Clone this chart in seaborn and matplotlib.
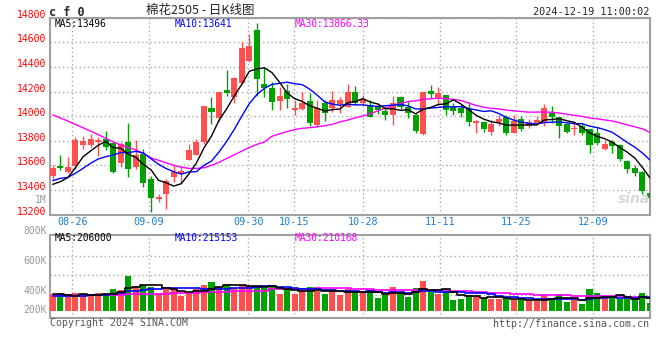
import numpy as np
import pandas as pd
import seaborn as sns
import matplotlib
matplotlib.use("Agg")
import matplotlib.pyplot as plt
from matplotlib.transforms import ScaledTranslation

sns.set_style("white")
plt.rcParams['font.family'] = ['DejaVu Sans Mono']

# ---- data ----
dates = ["08-21", "08-22", "08-23", "08-26", "08-27", "08-28", "08-29", "08-30",
         "09-02", "09-03", "09-04", "09-05", "09-06", "09-09", "09-10", "09-11",
         "09-12", "09-13", "09-18", "09-19", "09-20", "09-23", "09-24", "09-25",
         "09-26", "09-27", "09-30", "10-08", "10-09", "10-10", "10-11", "10-14",
         "10-15", "10-16", "10-17", "10-18", "10-21", "10-22", "10-23", "10-24",
         "10-25", "10-28", "10-29", "10-30", "10-31", "11-01", "11-04", "11-05",
         "11-06", "11-07", "11-08", "11-11", "11-12", "11-13", "11-14", "11-15",
         "11-18", "11-19", "11-20", "11-21", "11-22", "11-25", "11-26", "11-27",
         "11-28", "11-29", "12-02", "12-03", "12-04", "12-05", "12-06", "12-09",
         "12-10", "12-11", "12-12", "12-13", "12-16", "12-17", "12-18", "12-19"]

opens = [13513, 13595, 13549, 13595, 13765, 13765, 13786, 13814, 13784, 13616,
         13786, 13584, 13689, 13489, 13326, 13365, 13502, 13529, 13645, 13684,
         13792, 14063, 13987, 14212, 14158, 14272, 14450, 14700, 14261, 14231,
         14125, 14207, 14050, 14060, 14123, 13927, 14109, 14063, 14098, 14076,
         14198, 14109, 14090, 14072, 14044, 14009, 14158, 14076, 14009, 13854,
         14204, 14136, 14172, 14072, 14063, 14055, 13946, 13954, 13873, 13949,
         13995, 13865, 13974, 13919, 13941, 13945, 14023, 13990, 13936, 13893,
         13920, 13893, 13860, 13733, 13792, 13765, 13638, 13578, 13548, 13372]
highs = [13603, 13684, 13665, 13827, 13840, 13851, 13832, 13881, 13790, 13792,
         13946, 13805, 13732, 13516, 13370, 13486, 13605, 13595, 13770, 13811,
         14085, 14153, 14200, 14375, 14320, 14600, 14667, 14760, 14402, 14280,
         14240, 14265, 14134, 14198, 14185, 14131, 14131, 14207, 14153, 14261,
         14245, 14171, 14131, 14110, 14080, 14164, 14160, 14120, 14020, 14200,
         14253, 14240, 14172, 14110, 14100, 14104, 13965, 13960, 13965, 14010,
         14010, 14010, 14000, 13976, 14000, 14095, 14085, 13992, 13945, 13941,
         13941, 13895, 13909, 13806, 13806, 13770, 13640, 13600, 13550, 13405]
lows = [13486, 13562, 13535, 13568, 13730, 13750, 13676, 13724, 13541, 13589,
        13508, 13573, 13422, 13224, 13300, 13242, 13467, 13456, 13643, 13680,
        13770, 13936, 13960, 14164, 14104, 14261, 14442, 14164, 14153, 14050,
        14047, 14066, 14010, 14050, 13920, 13920, 13960, 14036, 14028, 14070,
        14090, 14090, 13990, 14015, 13970, 13927, 14060, 13982, 13865, 13850,
        14150, 14090, 14010, 14010, 13990, 13922, 13864, 13870, 13850, 13922,
        13850, 13860, 13880, 13900, 13935, 13920, 13940, 13819, 13860, 13846,
        13846, 13697, 13765, 13725, 13703, 13635, 13535, 13510, 13365, 13318]
closes = [13576, 13578, 13584, 13805, 13800, 13814, 13805, 13751, 13549, 13773,
          13568, 13684, 13459, 13332, 13345, 13471, 13548, 13556, 13725, 13792,
          14082, 14036, 14198, 14185, 14312, 14556, 14570, 14299, 14226, 14117,
          14164, 14136, 14069, 14109, 13941, 14063, 14023, 14131, 14131, 14198,
          14109, 14139, 13995, 14050, 14009, 14104, 14076, 14023, 13879, 14198,
          14180, 14190, 14050, 14042, 14028, 13954, 13960, 13895, 13936, 13976,
          13865, 13963, 13893, 13949, 13968, 14065, 13990, 13922, 13868, 13901,
          13865, 13765, 13779, 13773, 13759, 13651, 13570, 13541, 13393, 13332]
volumes = [283000, 306000, 249000, 306000, 249000, 249000, 306000, 289000, 368000, 351000,
           595000, 419000, 436000, 408000, 295000, 368000, 368000, 249000, 295000, 368000,
           436000, 487000, 408000, 459000, 385000, 436000, 419000, 419000, 391000, 408000,
           283000, 380000, 283000, 340000, 402000, 340000, 283000, 351000, 261000, 368000,
           323000, 295000, 351000, 221000, 266000, 402000, 295000, 232000, 385000, 504000,
           323000, 283000, 340000, 181000, 198000, 266000, 249000, 221000, 198000, 198000,
           227000, 181000, 181000, 159000, 159000, 266000, 198000, 283000, 147000, 181000,
           113000, 368000, 300000, 198000, 227000, 204000, 204000, 198000, 300000, 136000]

# moving-average values at the left edge (history before the window)
ma5_head = [13445, 13467, 13500, 13580]
ma10_head = [13475, 13494, 13502, 13535, 13575, 13616, 13651, 13670, 13684]
ma30_head = [14010, 13985, 13960, 13932, 13905, 13878, 13850, 13820, 13790, 13765,
             13745, 13725, 13695, 13660, 13640, 13620, 13600, 13585, 13575, 13575,
             13580, 13600, 13625, 13655, 13685, 13715, 13745, 13770, 13790]
vol_ma5_head = [278000, 278000, 275000, 250000]
vol_ma10_head = [250000, 250000, 252000, 255000, 258000, 262000, 266000, 272000, 280000]
vol_ma30_head = [262000, 263000, 264000, 265000, 266000, 267000, 268000, 270000, 272000, 274000,
                 277000, 280000, 283000, 286000, 289000, 292000, 295000, 298000, 301000, 304000,
                 310000, 315000, 320000, 325000, 330000, 333000, 336000, 338000, 340000]

tick_dates = ["08-26", "09-09", "09-30", "10-15", "10-28", "11-11", "11-25", "12-09"]
price_ticks = [13200, 13400, 13600, 13800, 14000, 14200, 14400, 14600, 14800]

RED = "#FF5050"
GREEN = "#00A000"
GRID = "#AAAAAA"
SPINE = "#A0A0A0"


def moving_avg(values, n, head):
    s = pd.Series(values, dtype=float).rolling(n).mean()
    s.iloc[:n - 1] = head
    return s


df = pd.DataFrame({"x": np.arange(len(dates)), "open": opens, "high": highs,
                   "low": lows, "close": closes, "vol": volumes})
df["ma5"] = moving_avg(closes, 5, ma5_head)
df["ma10"] = moving_avg(closes, 10, ma10_head)
df["ma30"] = moving_avg(closes, 30, ma30_head)
df["vma5"] = moving_avg(volumes, 5, vol_ma5_head)
df["vma10"] = moving_avg(volumes, 10, vol_ma10_head)
df["vma30"] = moving_avg(volumes, 30, vol_ma30_head)
df["color"] = np.where(df["close"] >= df["open"], RED, GREEN)

W, H = 660, 360
fig = plt.figure(figsize=(W / 100, H / 100), dpi=100)


def fx(px):
    return px / W


def fy(py):
    return 1 - py / H


ax = fig.add_axes([fx(50), fy(214.5), 600 / W, 196.8 / H])
axv = fig.add_axes([fx(50), fy(318), 600 / W, 83 / H])

# date gridlines run slightly wider than the candle spacing on the original
tick_idx = np.array([dates.index(d) for d in tick_dates])
grid_x = tick_idx * 1.012 - 0.43

# ---- price panel ----
ax.vlines(df["x"], df["low"], df["high"], colors=df["color"], lw=1, zorder=3)
body_bottom = np.minimum(df["open"], df["close"])
body_h = np.maximum((df["close"] - df["open"]).abs(), 7)
ax.bar(df["x"], body_h, bottom=body_bottom, width=0.8, color=df["color"], lw=0, zorder=4)

sns.lineplot(data=df, x="x", y="ma30", ax=ax, color="#FF00FF", lw=1, zorder=5)
sns.lineplot(data=df, x="x", y="ma10", ax=ax, color="#0000FF", lw=1, zorder=6)
sns.lineplot(data=df, x="x", y="ma5", ax=ax, color="black", lw=1, zorder=7)

ax.set_xlim(-0.36, 79.0)
ax.set_ylim(13200, 14800)
ax.set_yticks(price_ticks)
ax.set_yticklabels([str(p) for p in price_ticks], color="#FF0000", fontsize=7)
ax.set_xticks(grid_x)
ax.set_xticklabels(tick_dates, color="#1E7FD0", fontsize=7.3)
ax.tick_params(axis="both", length=0)
ax.tick_params(axis="y", pad=2.5)
ax.tick_params(axis="x", pad=2)
off = ScaledTranslation(0, 2.8 / 72, fig.dpi_scale_trans)
for lab in ax.get_yticklabels():
    lab.set_transform(lab.get_transform() + off)
ax.grid(True, color=GRID, linestyle=(0, (1, 2)), lw=1)
ax.set_xlabel("")
ax.set_ylabel("")

# ---- volume panel ----
VOL_PER_PX = 17000
axv.bar(df["x"], df["vol"], width=0.8, color=df["color"], lw=0, zorder=3)
sns.lineplot(data=df, x="x", y="vma30", ax=axv, color="#FF00FF", lw=1.2,
             drawstyle="steps-mid", zorder=4)
sns.lineplot(data=df, x="x", y="vma10", ax=axv, color="#0000FF", lw=1.2,
             drawstyle="steps-mid", zorder=5)
sns.lineplot(data=df, x="x", y="vma5", ax=axv, color="black", lw=1.2,
             drawstyle="steps-mid", zorder=6)
axv.set_xlim(-0.36, 79.0)
axv.set_ylim(-(318 - 310.7) * VOL_PER_PX, (310.7 - 235) * VOL_PER_PX)
axv.set_yticks([(310.7 - p) * VOL_PER_PX for p in (255.7, 275.3, 295.3)])
axv.set_yticklabels([])
axv.set_xticks(grid_x)
axv.set_xticklabels([])
axv.tick_params(axis="both", length=0)
axv.grid(True, color=GRID, linestyle=(0, (1, 2)), lw=1)
axv.set_xlabel("")
axv.set_ylabel("")

for a in (ax, axv):
    for sp in a.spines.values():
        sp.set_visible(True)
        sp.set_color(SPINE)
        sp.set_linewidth(1.5)

# ---- texts ----
fig.text(fx(49), fy(12), "c f 0", fontsize=8.5, fontweight="bold", va="center")
fig.text(fx(200), fy(10.5), "棉花2505 - 日K线图", fontsize=9, ha="center", va="center",
         family=["Noto Sans CJK SC", "DejaVu Sans"])
fig.text(fx(649), fy(12), "2024-12-19 11:00:02", fontsize=7.3, ha="right", va="center")

fig.text(fx(55), fy(23.7), "MA5:13496", fontsize=6.9, color="black", va="center")
fig.text(fx(175), fy(23.7), "MA10:13641", fontsize=6.9, color="#0000FF", va="center")
fig.text(fx(295), fy(23.7), "MA30:13866.33", fontsize=6.9, color="#FF00FF", va="center")

fig.text(fx(55), fy(238), "MA5:206000", fontsize=6.9, color="black", va="center")
fig.text(fx(175), fy(238), "MA10:215153", fontsize=6.9, color="#0000FF", va="center")
fig.text(fx(295), fy(238), "MA30:210168", fontsize=6.9, color="#FF00FF", va="center")

for lab, py in [("1M", 200), ("800K", 231), ("600K", 261), ("400K", 291), ("200K", 310)]:
    fig.text(fx(46.7), fy(py), lab, fontsize=7, color="#999999", ha="right", va="center")

fig.text(fx(634), fy(199), "sina", fontsize=10, fontweight="bold", style="italic",
         color="#D8D8D8", ha="center", va="center", family=["DejaVu Sans"])

fig.text(fx(50), fy(323.5), "Copyright 2024 SINA.COM", fontsize=7.1, color="#555555",
         va="center")
fig.text(fx(649.5), fy(324), "http://finance.sina.com.cn", fontsize=7.2, color="#555555",
         ha="right", va="center")

fig.savefig("out.png", dpi=100)
